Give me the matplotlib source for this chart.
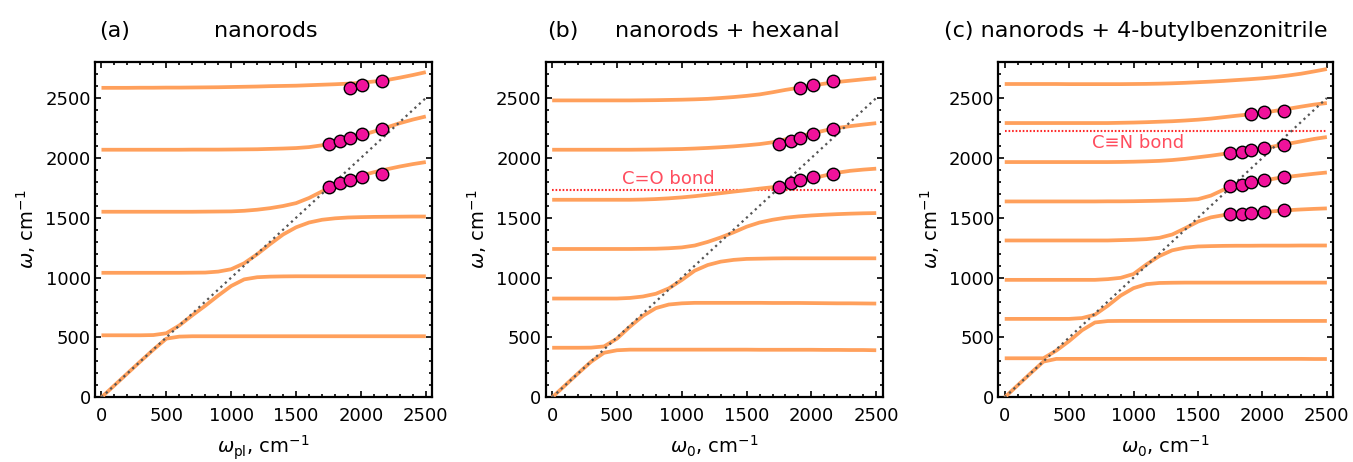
import matplotlib.pyplot as plt
from matplotlib.ticker import MultipleLocator
import numpy as np

# x grid of the read-off points, cm^-1
w0 = np.arange(0, 2501, 100)

# (a) nanorods: polariton branches read at w0
a_branches = [
    [0, 100, 200, 300, 398, 490, 507, 510, 510, 510, 510, 510, 510, 510, 510, 510, 510, 510, 510, 510, 510, 510, 510, 510, 510, 510],
    [518, 518, 518, 518, 520, 535, 600, 685, 765, 850, 930, 985, 1003, 1008, 1010, 1011, 1011, 1011, 1011, 1011, 1011, 1011, 1011, 1011, 1011, 1011],
    [1040, 1040, 1040, 1040, 1040, 1040, 1040, 1041, 1042, 1050, 1070, 1120, 1195, 1280, 1360, 1420, 1460, 1483, 1495, 1502, 1505, 1507, 1508, 1509, 1510, 1510],
    [1550, 1550, 1550, 1550, 1550, 1550, 1550, 1550, 1551, 1552, 1553, 1558, 1567, 1580, 1598, 1622, 1665, 1720, 1770, 1812, 1852, 1880, 1905, 1928, 1948, 1965],
    [2068, 2068, 2068, 2068, 2068, 2068, 2068, 2069, 2069, 2069, 2070, 2071, 2072, 2075, 2078, 2082, 2090, 2105, 2130, 2158, 2188, 2220, 2255, 2290, 2320, 2346],
    [2585, 2585, 2585, 2586, 2586, 2587, 2587, 2588, 2589, 2590, 2592, 2594, 2596, 2599, 2601, 2603, 2607, 2611, 2615, 2620, 2627, 2638, 2650, 2670, 2692, 2716],
]

# (b) nanorods + hexanal
b_branches = [
    [0, 100, 200, 297, 372, 393, 398, 398, 398, 398, 398, 398, 398, 398, 398, 398, 397, 397, 397, 397, 397, 396, 396, 395, 395, 393],
    [414, 414, 414, 415, 425, 490, 590, 680, 745, 775, 785, 789, 789, 789, 789, 789, 789, 788, 788, 788, 787, 786, 785, 785, 784, 783],
    [825, 825, 825, 825, 825, 825, 830, 842, 865, 910, 980, 1058, 1105, 1133, 1148, 1156, 1158, 1160, 1161, 1161, 1161, 1161, 1161, 1161, 1161, 1161],
    [1239, 1239, 1239, 1239, 1239, 1239, 1239, 1240, 1241, 1245, 1252, 1268, 1298, 1335, 1378, 1425, 1460, 1483, 1500, 1511, 1519, 1525, 1530, 1534, 1537, 1539],
    [1650, 1650, 1650, 1650, 1650, 1650, 1650, 1652, 1656, 1662, 1670, 1680, 1692, 1705, 1718, 1730, 1743, 1755, 1775, 1800, 1828, 1852, 1876, 1892, 1902, 1910],
    [2068, 2068, 2068, 2068, 2068, 2068, 2068, 2069, 2070, 2072, 2074, 2078, 2083, 2089, 2096, 2105, 2115, 2130, 2155, 2180, 2202, 2228, 2250, 2265, 2278, 2290],
    [2480, 2480, 2480, 2480, 2480, 2480, 2480, 2481, 2482, 2484, 2486, 2489, 2493, 2500, 2508, 2518, 2530, 2548, 2568, 2585, 2603, 2620, 2634, 2645, 2656, 2666],
]

# (c) nanorods + 4-butylbenzonitrile
c_branches = [
    [0, 100, 200, 298, 321, 321, 321, 321, 321, 321, 321, 321, 321, 321, 321, 321, 321, 321, 321, 321, 321, 321, 321, 321, 320, 320],
    [326, 326, 326, 326, 390, 470, 560, 625, 637, 638, 638, 638, 638, 638, 638, 638, 638, 638, 638, 638, 638, 638, 638, 638, 638, 638],
    [655, 655, 655, 655, 655, 655, 662, 690, 765, 850, 912, 945, 955, 957, 958, 958, 958, 958, 958, 958, 958, 958, 958, 958, 958, 958],
    [981, 981, 981, 981, 981, 981, 981, 981, 987, 998, 1030, 1110, 1180, 1228, 1250, 1260, 1263, 1265, 1266, 1266, 1267, 1267, 1267, 1268, 1268, 1268],
    [1310, 1310, 1310, 1310, 1310, 1310, 1310, 1310, 1310, 1313, 1316, 1321, 1332, 1360, 1412, 1468, 1503, 1522, 1533, 1540, 1548, 1555, 1563, 1569, 1574, 1578],
    [1636, 1636, 1636, 1636, 1636, 1636, 1636, 1636, 1637, 1637, 1638, 1640, 1642, 1645, 1648, 1655, 1685, 1735, 1770, 1787, 1808, 1828, 1842, 1855, 1867, 1878],
    [1965, 1965, 1965, 1965, 1965, 1965, 1965, 1965, 1965, 1966, 1968, 1971, 1975, 1982, 1992, 2005, 2018, 2033, 2048, 2062, 2078, 2098, 2118, 2138, 2158, 2174],
    [2291, 2291, 2291, 2291, 2291, 2291, 2291, 2291, 2291, 2293, 2295, 2298, 2302, 2306, 2312, 2319, 2328, 2340, 2352, 2363, 2377, 2393, 2410, 2428, 2445, 2458],
    [2617, 2617, 2617, 2617, 2617, 2616, 2616, 2616, 2616, 2616, 2617, 2618, 2620, 2623, 2627, 2632, 2637, 2643, 2650, 2657, 2665, 2675, 2688, 2703, 2722, 2742],
]

# measured points
x_meas = [1750, 1840, 1915, 2010, 2165]
ab_meas = [
    (x_meas[2:], [2580, 2612, 2641]),
    (x_meas, [2116, 2138, 2168, 2201, 2239]),
    (x_meas, [1757, 1786, 1811, 1840, 1869]),
]
c_meas = [
    (x_meas[2:], [2366, 2383, 2394]),
    (x_meas, [2040, 2052, 2064, 2084, 2104]),
    (x_meas, [1765, 1776, 1797, 1817, 1839]),
    (x_meas, [1528, 1529, 1539, 1549, 1562]),
]

# molecular vibrations
co_bond = 1728
cn_bond = 2225

orange = '#FFA05C'
pink = '#F0129B'
red_txt = '#FF4D5E'

W, H = 1353, 462
fig = plt.figure(figsize=(W / 100, H / 100), dpi=100)


def panel(left, right, branches, meas, xlabel):
    ax = fig.add_axes([left / W, (H - 397.3) / H, (right - left) / W, (397.3 - 61.5) / H])
    for y in branches:
        ax.plot(w0, y, color=orange, lw=2.7, solid_capstyle='butt', zorder=3)
    ax.plot([0, 2500], [0, 2500], color='#555555', lw=1.6, ls=(0, (1, 1.7)), zorder=4)
    for xs, ys in meas:
        ax.plot(xs, ys, 'o', ms=9, mfc=pink, mec='black', mew=1.0, zorder=5)
    ax.set_xlim(-50, 2550)
    ax.set_ylim(0, 2805)
    ax.xaxis.set_major_locator(MultipleLocator(500))
    ax.yaxis.set_major_locator(MultipleLocator(500))
    ax.xaxis.set_minor_locator(MultipleLocator(100))
    ax.yaxis.set_minor_locator(MultipleLocator(100))
    ax.tick_params(which='both', direction='in', top=True, right=True, width=1.2, labelsize=13)
    ax.tick_params(which='major', length=4)
    ax.tick_params(which='minor', length=2.5)
    ax.tick_params(axis='x', pad=7)
    ax.tick_params(axis='y', pad=3)
    for s in ax.spines.values():
        s.set_linewidth(1.6)
    ax.set_xlabel(xlabel, fontsize=14, labelpad=6)
    ax.set_ylabel(r'$\omega$, cm$^{-1}$', fontsize=14, labelpad=5)
    return ax


ax1 = panel(95, 432.3, a_branches, ab_meas, r'$\omega_{\rm pl}$, cm$^{-1}$')
ax2 = panel(545.7, 882.7, b_branches, ab_meas, r'$\omega_0$, cm$^{-1}$')
ax3 = panel(998.3, 1333.3, c_branches, c_meas, r'$\omega_0$, cm$^{-1}$')

ax2.plot([0, 2500], [co_bond, co_bond], color='#FF2A2A', lw=1.5, ls=(0, (0.8, 0.9)), zorder=2)
ax2.text(897, 1825, 'C=O bond', color=red_txt, fontsize=13, ha='center', va='center')
ax3.plot([0, 2500], [cn_bond, cn_bond], color='#FF2A2A', lw=1.5, ls=(0, (0.8, 0.9)), zorder=2)
ax3.text(1034, 2123, 'C\u2261N bond', color=red_txt, fontsize=13, ha='center', va='center')

ty = 1 - 37 / H
fig.text(115 / W, ty, '(a)', fontsize=16, ha='center', va='baseline')
fig.text(266 / W, ty, 'nanorods', fontsize=16, ha='center', va='baseline')
fig.text(563 / W, ty, '(b)', fontsize=16, ha='center', va='baseline')
fig.text(727 / W, ty, 'nanorods + hexanal', fontsize=16, ha='center', va='baseline')
fig.text(1136 / W, ty, '(c) nanorods + 4-butylbenzonitrile', fontsize=16, ha='center', va='baseline')

fig.savefig('out.png', dpi=100)
